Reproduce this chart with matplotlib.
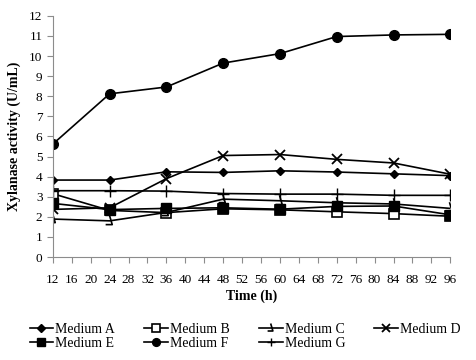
import numpy as np
import matplotlib
matplotlib.use("Agg")
import matplotlib.pyplot as plt
from matplotlib.path import Path

# time points (h)
hours = [12, 24, 36, 48, 60, 72, 84, 96]

# xylanase activity (U/mL) per medium
medium_a = [3.83, 3.83, 4.24, 4.21, 4.29, 4.23, 4.14, 4.05]
medium_b = [3.15, 2.32, 2.21, 2.40, 2.35, 2.25, 2.16, 2.03]
medium_c = [1.89, 1.80, 2.22, 2.88, 2.80, 2.70, 2.64, 2.42]
medium_d = [2.37, 2.45, 3.90, 5.05, 5.10, 4.86, 4.68, 4.12]
medium_e = [2.67, 2.36, 2.42, 2.45, 2.38, 2.52, 2.54, 2.10]
medium_f = [5.62, 8.12, 8.46, 9.65, 10.12, 10.97, 11.05, 11.08]
medium_g = [3.30, 3.30, 3.28, 3.16, 3.13, 3.13, 3.07, 3.07]

labels = ["Medium A", "Medium B", "Medium C", "Medium D",
          "Medium E", "Medium F", "Medium G"]

plt.rcParams['font.family'] = ['Liberation Serif', 'DejaVu Serif']
plt.rcParams['font.size'] = 10

# hook shaped marker used for medium C
hook = Path([(-0.15, 0.9), (0.25, -0.45), (-0.7, -0.45)],
            [Path.MOVETO, Path.LINETO, Path.LINETO])

fig = plt.figure(figsize=(4.76, 3.6), dpi=100)
ax = fig.add_axes([0.111, 0.286, 0.835, 0.67])

lw = 1.2
h = {}
h['A'], = ax.plot(hours, medium_a, color='black', lw=lw, marker='D', ms=4.5)
h['B'], = ax.plot(hours, medium_b, color='black', lw=lw, marker='s', ms=6.5,
                  mfc='white', mec='black', mew=1.2)
h['C'], = ax.plot(hours, medium_c, color='black', lw=lw, marker=hook, ms=9,
                  mfc='none', mec='black', mew=1.2)
h['D'], = ax.plot(hours, medium_d, color='black', lw=lw, marker='x', ms=7,
                  mew=1.3)
h['E'], = ax.plot(hours, medium_e, color='black', lw=lw, marker='s', ms=6.5)
h['F'], = ax.plot(hours, medium_f, color='black', lw=lw, marker='o', ms=7)
h['G'], = ax.plot(hours, medium_g, color='black', lw=lw, marker='+', ms=8,
                  mew=1.0)

ax.set_xlim(12, 96)
ax.set_ylim(0, 12)
ax.set_xticks(np.arange(12, 97, 4))
ax.set_yticks(np.arange(0, 13, 1))
ax.spines['top'].set_visible(False)
ax.spines['right'].set_visible(False)
for s in ['left', 'bottom']:
    ax.spines[s].set_color('#8c8c8c')
    ax.spines[s].set_linewidth(0.8)
ax.tick_params(colors='#8c8c8c', labelcolor='black', length=4,
               width=0.8, labelsize=9.5, direction='out')
ax.tick_params(axis='x', pad=8)
ax.set_xlabel("Time (h)", fontweight='bold', fontsize=10, labelpad=3)
ax.set_ylabel("Xylanase activity (U/mL)", fontweight='bold', fontsize=10,
              labelpad=6)

# matplotlib fills legend columns first, reorder so rows read A-D, E-G
order = ['A', 'E', 'B', 'F', 'C', 'G', 'D']
fig.legend([h[k] for k in order],
           [labels["ABCDEFG".index(k)] for k in order],
           loc='upper center', bbox_to_anchor=(0.515, 0.138), ncol=4,
           frameon=False, fontsize=10, handlelength=1.7, handletextpad=0.15,
           columnspacing=2.1, labelspacing=0.1, markerscale=0.8)

fig.savefig("out.png", dpi=100)
